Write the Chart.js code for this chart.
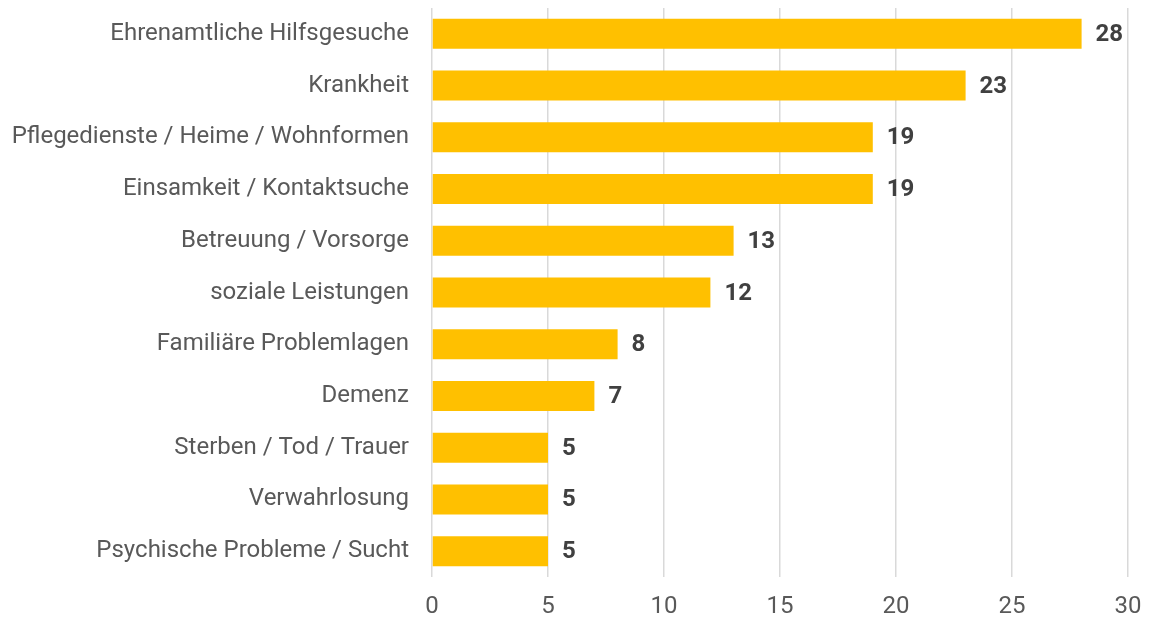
<!DOCTYPE html>
<html>
<head>
<meta charset="utf-8">
<script src="https://cdn.jsdelivr.net/npm/chart.js@4"></script>
<style>
  html, body { margin: 0; padding: 0; background: #fff; }
  #wrap { width: 1149px; height: 619px; }
</style>
</head>
<body>
<div id="wrap"><canvas id="mainChart"></canvas></div>
<script>
// -- chart data --
const categories = [
  "Ehrenamtliche Hilfsgesuche",
  "Krankheit",
  "Pflegedienste / Heime / Wohnformen",
  "Einsamkeit / Kontaktsuche",
  "Betreuung / Vorsorge",
  "soziale Leistungen",
  "Familiäre Problemlagen",
  "Demenz",
  "Sterben / Tod / Trauer",
  "Verwahrlosung",
  "Psychische Probleme / Sucht",
];
const counts = [28, 23, 19, 19, 13, 12, 8, 7, 5, 5, 5];
const xTicks = [0, 5, 10, 15, 20, 25, 30];

// -- draws the bold numbers at the bar ends --
const valueLabels = {
  id: "valueLabels",
  afterDatasetsDraw(chart) {
    const ctx = chart.ctx;
    const meta = chart.getDatasetMeta(0);
    ctx.save();
    ctx.font = "bold 24px Roboto";
    ctx.fillStyle = "#404040";
    ctx.textAlign = "left";
    ctx.textBaseline = "middle";
    meta.data.forEach((bar, i) => {
      ctx.fillText(String(counts[i]), bar.x + 14, bar.y + 1);
    });
    ctx.restore();
  },
};

const ctx = document.getElementById("mainChart").getContext("2d");
new Chart(ctx, {
  type: "bar",
  data: {
    labels: categories,
    datasets: [
      {
        data: counts,
        backgroundColor: "#FFC000",
        borderWidth: 0,
        categoryPercentage: 1,
        barPercentage: 0.58,
      },
    ],
  },
  options: {
    indexAxis: "y",
    responsive: true,
    maintainAspectRatio: false,
    animation: false,
    layout: { padding: { top: 8, right: 21, left: 0, bottom: 0 } },
    plugins: {
      legend: { display: false },
      tooltip: { enabled: false },
    },
    scales: {
      x: {
        min: 0,
        max: 30,
        afterBuildTicks: (axis) => {
          axis.ticks = xTicks.map((v) => ({ value: v }));
        },
        afterFit: (axis) => {
          axis.height = 42;
          axis.paddingLeft = 0;
          axis.paddingRight = 0;
        },
        ticks: {
          color: "#595959",
          font: { family: "Roboto", size: 24 },
          padding: 16,
        },
        grid: { color: "#d9d9d9", lineWidth: 1.5, drawTicks: false },
        border: { display: false },
      },
      y: {
        afterFit: (axis) => {
          axis.width = 432;
          axis.paddingTop = 0;
          axis.paddingBottom = 0;
        },
        ticks: {
          color: "#595959",
          font: { family: "Roboto", size: 24 },
          padding: 15,
        },
        grid: { display: false },
        border: { display: false },
      },
    },
  },
  plugins: [valueLabels],
});
</script>
</body>
</html>
